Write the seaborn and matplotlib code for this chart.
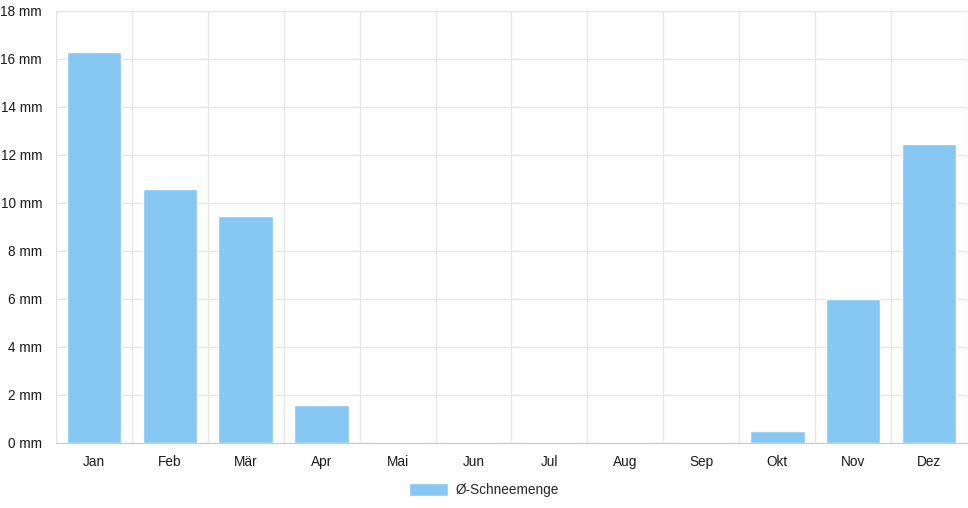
import numpy as np
import pandas as pd
import seaborn as sns
import matplotlib.pyplot as plt
from matplotlib.ticker import FixedLocator, FuncFormatter

monate = ['Jan', 'Feb', 'Mär', 'Apr', 'Mai', 'Jun', 'Jul', 'Aug', 'Sep', 'Okt', 'Nov', 'Dez']
schnee = [16.3, 10.6, 9.45, 1.6, 0, 0, 0, 0, 0, 0.5, 6.0, 12.45]
y_ticks = [0, 2, 4, 6, 8, 10, 12, 14, 16, 18]
serie = 'Ø-Schneemenge'

df = pd.DataFrame({'Monat': monate, 'Wert': schnee})

sns.set_style('white')
plt.rcParams['font.family'] = ['Liberation Sans', 'DejaVu Sans']

W, H = 968, 508
fig = plt.figure(figsize=(W / 100, H / 100), dpi=100)
ax = fig.add_axes([56 / W, (H - 443) / H, (967 - 56) / W, (443 - 11) / H])

sns.barplot(data=df, x='Monat', y='Wert', color='#86C7F3', width=0.72,
            saturation=1, label=serie, ax=ax, zorder=3)

ax.set_xlim(-0.5, len(monate) - 0.5)
ax.set_ylim(0, 18)
ax.set_yticks(y_ticks)
ax.yaxis.set_major_formatter(FuncFormatter(lambda v, p: f'{v:.0f} mm'))
ax.xaxis.set_minor_locator(FixedLocator(np.arange(-0.5, len(monate), 1)))
ax.set_xlabel('')
ax.set_ylabel('')

ax.grid(True, axis='y', which='major', color='#e6e6e6', lw=1, zorder=0)
ax.grid(True, axis='x', which='minor', color='#e6e6e6', lw=1, zorder=0)
ax.tick_params(axis='x', which='major', length=0, pad=8.5, labelsize=9.8, colors='#1a1a1a')
ax.tick_params(axis='x', which='minor', length=8, color='#e0e0e0', width=1)
ax.tick_params(axis='y', length=8, color='#e0e0e0', width=1, pad=2, labelsize=9.8, labelcolor='#1a1a1a')

for s in ['top', 'right']:
    ax.spines[s].set_visible(False)
ax.spines['left'].set_color('#e0e0e0')
ax.spines['bottom'].set_color('#c8c8c8')

handles, labels = ax.get_legend_handles_labels()
if ax.get_legend() is not None:
    ax.get_legend().remove()
fig.legend(handles, labels, loc='center', bbox_to_anchor=(0.5, 1 - 490 / H), frameon=False,
           handlelength=2.9, handleheight=1.1, handletextpad=0.55, fontsize=9.8)

plt.savefig('out.png', dpi=100)
plt.close()
